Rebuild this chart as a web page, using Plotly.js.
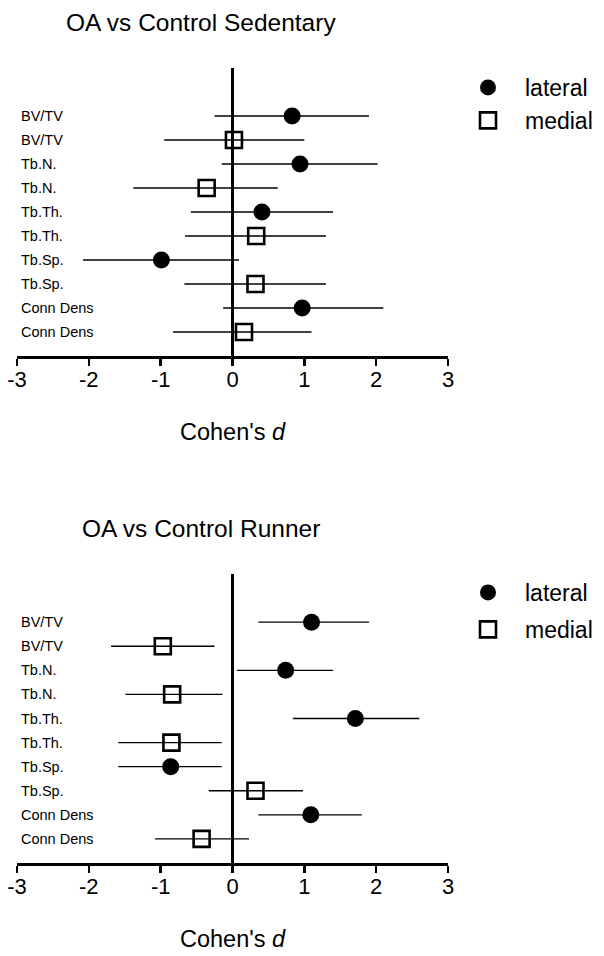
<!DOCTYPE html>
<html>
<head>
<meta charset="utf-8">
<script src="https://cdn.plot.ly/plotly-3.0.1.min.js"></script>
<style>html,body{margin:0;padding:0;background:#fff;}#chart{width:604px;height:956px;}</style>
</head>
<body>
<div id="chart"></div>
<script>
const categories = ['BV/TV', 'Tb.N.', 'Tb.Th.', 'Tb.Sp.', 'Conn Dens'];
const seriesNames = ['lateral', 'medial'];
const panelTitles = ['OA vs Control Sedentary', 'OA vs Control Runner'];
const xTickVals = [-3, -2, -1, 0, 1, 2, 3];

// OA vs Control Sedentary
const sedLateralD  = [0.83, 0.94, 0.41, -0.99, 0.97];
const sedLateralLo = [-0.25, -0.15, -0.58, -2.08, -0.13];
const sedLateralHi = [1.90, 2.02, 1.40, 0.09, 2.10];
const sedMedialD   = [0.02, -0.36, 0.33, 0.32, 0.16];
const sedMedialLo  = [-0.95, -1.38, -0.66, -0.67, -0.83];
const sedMedialHi  = [1.00, 0.63, 1.30, 1.30, 1.10];

// OA vs Control Runner
const runLateralD  = [1.10, 0.74, 1.71, -0.86, 1.09];
const runLateralLo = [0.36, 0.06, 0.84, -1.59, 0.36];
const runLateralHi = [1.90, 1.40, 2.60, -0.15, 1.80];
const runMedialD   = [-0.97, -0.84, -0.85, 0.32, -0.43];
const runMedialLo  = [-1.69, -1.49, -1.59, -0.33, -1.08];
const runMedialHi  = [-0.25, -0.14, -0.15, 0.98, 0.23];

const latRows = categories.map((c, i) => 10 - 2 * i);
const medRows = categories.map((c, i) => 9 - 2 * i);

function trace(d, lo, hi, rows, name, isLat, xa, ya, legend, group) {
  return {
    type: 'scatter', mode: 'markers', name: name,
    x: d, y: rows, xaxis: xa, yaxis: ya, legend: legend, legendgroup: group, showlegend: true,
    marker: isLat
      ? {symbol: 'circle', size: 17, color: '#000'}
      : {symbol: 'square-open', size: 16, color: '#000', line: {width: 2.6, color: '#000'}},
    error_x: {
      type: 'data', symmetric: false,
      array: hi.map((h, i) => h - d[i]),
      arrayminus: lo.map((l, i) => d[i] - l),
      width: 0, thickness: 1.3, color: '#000'
    },
    hoverinfo: 'x+name'
  };
}

const data = [
  trace(sedLateralD, sedLateralLo, sedLateralHi, latRows, seriesNames[0], true, 'x', 'y', 'legend', 'a1'),
  trace(sedMedialD, sedMedialLo, sedMedialHi, medRows, seriesNames[1], false, 'x', 'y', 'legend', 'a2'),
  trace(runLateralD, runLateralLo, runLateralHi, latRows, seriesNames[0], true, 'x2', 'y2', 'legend2', 'b1'),
  trace(runMedialD, runMedialLo, runMedialHi, medRows, seriesNames[1], false, 'x2', 'y2', 'legend2', 'b2')
];

const W = 604, H = 956;
const xDom = [17 / W, 448 / W];
const yDomTop = [1 - 356 / H, 1 - 68 / H];
const yDomBot = [1 - 863 / H, 1 - 574 / H];
const font = 'Liberation Sans, Arial, Helvetica, sans-serif';

function xaxis(anchor) {
  return {
    domain: xDom, anchor: anchor, range: [-3, 3], fixedrange: true,
    tickvals: xTickVals, ticktext: xTickVals.map(String),
    ticks: 'outside', ticklen: 7, tickwidth: 2.5, tickcolor: '#000',
    ticklabelstandoff: -5,
    showline: true, linewidth: 2.5, linecolor: '#000',
    showgrid: false, zeroline: true, zerolinewidth: 2.4, zerolinecolor: '#000',
    tickfont: {family: font, size: 22, color: '#000'},
    title: {text: "Cohen's <i>d</i>", font: {family: font, size: 23.5, color: '#000'}, standoff: 33},
    automargin: false
  };
}
function yaxis(dom, anchor) {
  return {
    domain: dom, anchor: anchor, range: [0, 12], fixedrange: true,
    visible: false, showgrid: false, zeroline: false
  };
}

const annotations = [];
categories.forEach((c, i) => {
  ['y', 'y2'].forEach(ya => {
    [latRows[i], medRows[i]].forEach(r => {
      annotations.push({
        xref: 'paper', yref: ya, x: 19 / W, y: r, xanchor: 'left', yanchor: 'middle',
        text: c, showarrow: false, font: {family: font, size: 14.5, color: '#000'}
      });
    });
  });
});
annotations.push({xref: 'paper', yref: 'paper', x: 201 / W, y: 1 - 23 / H, xanchor: 'center', yanchor: 'middle',
  text: panelTitles[0], showarrow: false, font: {family: font, size: 24.5, color: '#000'}});
annotations.push({xref: 'paper', yref: 'paper', x: 201 / W, y: 1 - 528 / H, xanchor: 'center', yanchor: 'middle',
  text: panelTitles[1], showarrow: false, font: {family: font, size: 24.5, color: '#000'}});

const legendStyle = {
  font: {family: font, size: 23, color: '#000'}, bgcolor: 'rgba(0,0,0,0)',
  borderwidth: 0, xanchor: 'left', yanchor: 'top', itemclick: false, itemdoubleclick: false,
  itemwidth: 64, traceorder: 'grouped'
};

const layout = {
  width: W, height: H, margin: {l: 0, r: 0, t: 0, b: 0},
  paper_bgcolor: '#fff', plot_bgcolor: '#fff',
  font: {family: font, color: '#000'},
  xaxis: xaxis('y'), yaxis: yaxis(yDomTop, 'x'),
  xaxis2: xaxis('y2'), yaxis2: yaxis(yDomBot, 'x2'),
  legend: Object.assign({x: 451 / W, y: 1 - 66 / H, tracegroupgap: 0}, legendStyle),
  legend2: Object.assign({x: 451 / W, y: 1 - 571 / H, tracegroupgap: 4}, legendStyle),
  annotations: annotations,
  showlegend: true
};

Plotly.newPlot('chart', data, layout, {displayModeBar: false, staticPlot: true});
</script>
</body>
</html>
